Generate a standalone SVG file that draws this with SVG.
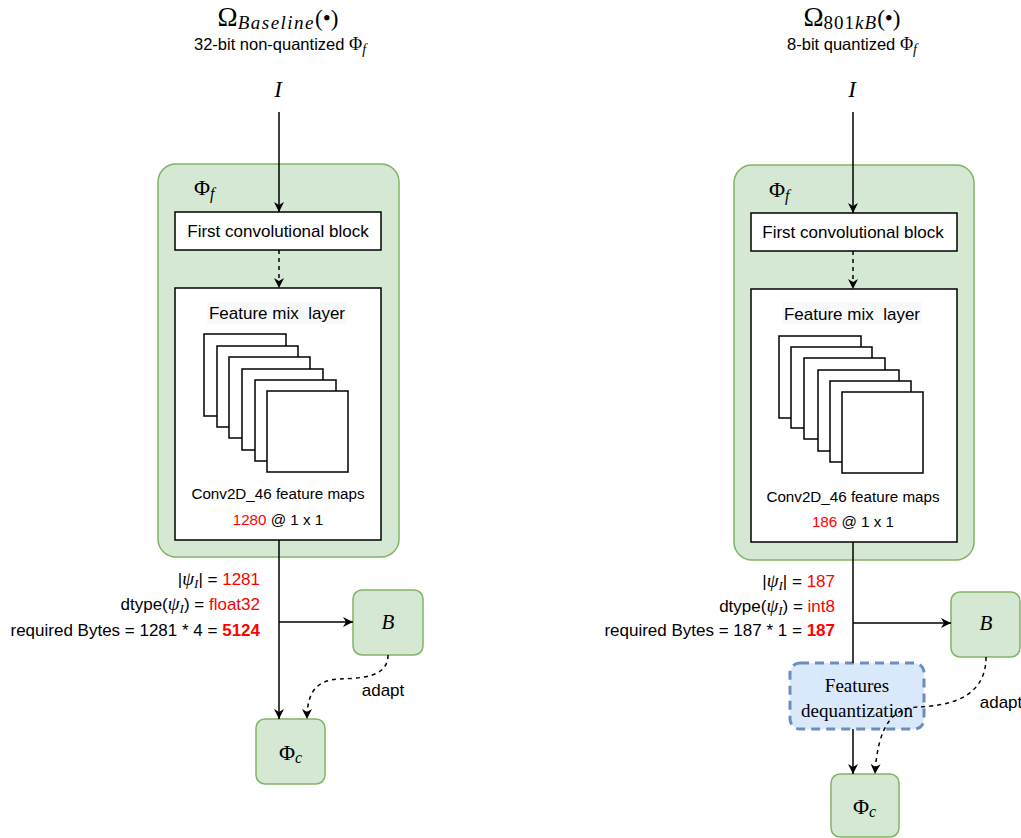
<svg xmlns="http://www.w3.org/2000/svg" width="1021" height="838" viewBox="0 0 1021 838">
  <defs>
    <marker id="arrow" viewBox="0 0 10 10" refX="10" refY="5" markerWidth="10" markerHeight="10" markerUnits="userSpaceOnUse" orient="auto">
      <path d="M0,0 L10,5 L0,10 L3,5 z" fill="#000"/>
    </marker>
    <style>
      .container { fill: #d5e8d4; stroke: #82b366; stroke-width: 1.5; }
      .green { fill: #d5e8d4; stroke: #82b366; stroke-width: 1.5; }
      .block { fill: #fff; stroke: #000; stroke-width: 1.5; }
      .map { fill: #fff; stroke: #000; stroke-width: 1.5; }
      .dequant { fill: #dae8fc; stroke: #6c8ebf; stroke-width: 3; stroke-dasharray: 9 6; }
      .edge { fill: none; stroke: #000; stroke-width: 1.5; }
      .dash { stroke-dasharray: 4 4; }
      .sans { font-family: "Liberation Sans", Arial, sans-serif; font-size: 17px; fill: #000; }
      .small { font-size: 15.2px; }
      .sub { font-size: 16.5px; }
      .serif { font-family: "Liberation Serif", "DejaVu Serif", serif; fill: #000; }
      .it { font-style: italic; }
      .red { fill: #ff0000; }
      .bold { font-weight: bold; }
    </style>
  </defs>

  <!-- ===== Baseline model (left) ===== -->
  <g id="title-baseline">
    <text class="serif" x="278" y="26" text-anchor="middle" font-size="27">Ω<tspan class="it" font-size="19" dy="3" letter-spacing="1.5">Baseline</tspan><tspan font-size="23" dy="-3">(•)</tspan></text>
    <text class="sans sub" x="280" y="50" text-anchor="middle">32-bit non-quantized <tspan class="serif" font-size="18">Φ</tspan><tspan class="serif it" font-size="14" dy="4">f</tspan></text>
  </g>
  <g id="input-baseline">
    <text class="serif it" x="278" y="97" text-anchor="middle" font-size="23">I</text>
  </g>
  <g id="phi-f-baseline">
    <rect class="container" x="158" y="164" width="241" height="393" rx="18"/>
    <text class="serif" x="194" y="195" font-size="22">Φ<tspan class="it" font-size="16" dy="4">f</tspan></text>
  </g>
  <g id="conv-block-baseline">
    <rect class="block" x="175" y="212" width="206" height="38"/>
    <text class="sans" x="278" y="237" text-anchor="middle">First convolutional block</text>
  </g>
  <g id="feature-mix-baseline">
    <rect class="block" x="175" y="288" width="206" height="252"/>
    <rect x="207" y="302" width="140" height="22" fill="#f8f9fa"/>
    <text class="sans" x="277" y="319" text-anchor="middle" xml:space="preserve">Feature mix  layer</text>
    <rect class="map" x="204" y="334" width="82" height="82"/>
    <rect class="map" x="217" y="346" width="81" height="81"/>
    <rect class="map" x="229" y="357" width="81" height="81"/>
    <rect class="map" x="242" y="369" width="81" height="81"/>
    <rect class="map" x="255" y="380" width="81" height="81"/>
    <rect class="map" x="267" y="391" width="81" height="81"/>
    <text class="sans small" x="278" y="499" text-anchor="middle">Conv2D_46 feature maps</text>
    <text class="sans small" x="278" y="525" text-anchor="middle"><tspan class="red">1280</tspan> @ 1 x 1</text>
  </g>
  <g id="stats-baseline">
    <text class="sans" x="260" y="585" text-anchor="end">|<tspan class="serif it" font-size="19">ψ</tspan><tspan class="serif it" font-size="13" dy="3">I</tspan><tspan dy="-3">| = </tspan><tspan class="red">1281</tspan></text>
    <text class="sans" x="260" y="610" text-anchor="end">dtype(<tspan class="serif it" font-size="19">ψ</tspan><tspan class="serif it" font-size="13" dy="3">I</tspan><tspan dy="-3">) = </tspan><tspan class="red">float32</tspan></text>
    <text class="sans" x="260" y="636" text-anchor="end">required Bytes = 1281 * 4 = <tspan class="red bold">5124</tspan></text>
  </g>
  <g id="b-baseline">
    <rect class="green" x="353" y="590" width="70" height="65" rx="9"/>
    <text class="serif it" x="388" y="629" text-anchor="middle" font-size="21">B</text>
  </g>
  <g id="phi-c-baseline">
    <rect class="green" x="256" y="719" width="69" height="65" rx="9"/>
    <text class="serif" x="279" y="760" font-size="22">Φ<tspan class="it" font-size="16" dy="3">c</tspan></text>
  </g>
  <text class="sans" x="383" y="696" text-anchor="middle">adapt</text>

  <!-- ===== 801kB model (right) ===== -->
  <g id="title-801kb">
    <text class="serif" x="852" y="26" text-anchor="middle" font-size="27">Ω<tspan font-size="19" dy="3" letter-spacing="1">801</tspan><tspan class="it" font-size="19" letter-spacing="1">kB</tspan><tspan font-size="23" dy="-3">(•)</tspan></text>
    <text class="sans sub" x="852" y="50" text-anchor="middle">8-bit quantized <tspan class="serif" font-size="18">Φ</tspan><tspan class="serif it" font-size="14" dy="4">f</tspan></text>
  </g>
  <g id="input-801kb">
    <text class="serif it" x="852" y="97" text-anchor="middle" font-size="23">I</text>
  </g>
  <g id="phi-f-801kb">
    <rect class="container" x="734" y="165" width="240" height="395" rx="18"/>
    <text class="serif" x="769" y="197" font-size="22">Φ<tspan class="it" font-size="16" dy="4">f</tspan></text>
  </g>
  <g id="conv-block-801kb">
    <rect class="block" x="751" y="213" width="206" height="38"/>
    <text class="sans" x="853" y="238" text-anchor="middle">First convolutional block</text>
  </g>
  <g id="feature-mix-801kb">
    <rect class="block" x="751" y="289" width="206" height="253"/>
    <rect x="782" y="302" width="140" height="22" fill="#f8f9fa"/>
    <text class="sans" x="852" y="320" text-anchor="middle" xml:space="preserve">Feature mix  layer</text>
    <rect class="map" x="779" y="336" width="82" height="82"/>
    <rect class="map" x="791" y="347" width="81" height="81"/>
    <rect class="map" x="804" y="358" width="81" height="81"/>
    <rect class="map" x="818" y="370" width="81" height="81"/>
    <rect class="map" x="830" y="381" width="81" height="81"/>
    <rect class="map" x="842" y="392" width="81" height="81"/>
    <text class="sans small" x="853" y="502" text-anchor="middle">Conv2D_46 feature maps</text>
    <text class="sans small" x="853" y="527" text-anchor="middle"><tspan class="red">186</tspan> @ 1 x 1</text>
  </g>
  <g id="stats-801kb">
    <text class="sans" x="835" y="587" text-anchor="end">|<tspan class="serif it" font-size="19">ψ</tspan><tspan class="serif it" font-size="13" dy="3">I</tspan><tspan dy="-3">| = </tspan><tspan class="red">187</tspan></text>
    <text class="sans" x="835" y="612" text-anchor="end">dtype(<tspan class="serif it" font-size="19">ψ</tspan><tspan class="serif it" font-size="13" dy="3">I</tspan><tspan dy="-3">) = </tspan><tspan class="red">int8</tspan></text>
    <text class="sans" x="835" y="636" text-anchor="end">required Bytes = 187 * 1 = <tspan class="red bold">187</tspan></text>
  </g>
  <g id="b-801kb">
    <rect class="green" x="951" y="592" width="69" height="65" rx="9"/>
    <text class="serif it" x="986" y="630" text-anchor="middle" font-size="21">B</text>
  </g>
  <g id="dequant-801kb">
    <rect class="dequant" x="790" y="663" width="134" height="66" rx="10"/>
    <text class="serif" x="857" y="692" text-anchor="middle" font-size="19">Features</text>
    <text class="serif" x="857" y="717" text-anchor="middle" font-size="19">dequantization</text>
  </g>
  <g id="phi-c-801kb">
    <rect class="green" x="831" y="774" width="68" height="63" rx="9"/>
    <text class="serif" x="853" y="814" font-size="22">Φ<tspan class="it" font-size="16" dy="3">c</tspan></text>
  </g>
  <text class="sans" x="1001" y="708" text-anchor="middle">adapt</text>

  <!-- ===== Connectors ===== -->
  <g id="connectors">
    <!-- baseline -->
    <path class="edge" d="M279,112 L279,212" marker-end="url(#arrow)"/>
    <path class="edge dash" d="M279,250 L279,288" marker-end="url(#arrow)"/>
    <path class="edge" d="M279,540 L279,719" marker-end="url(#arrow)"/>
    <path class="edge" d="M279,622 L353,622" marker-end="url(#arrow)"/>
    <path class="edge dash" d="M388,655 C388,678 360,678 340,679 C318,680 307,690 307,719" marker-end="url(#arrow)"/>
    <!-- 801kB -->
    <path class="edge" d="M853,112 L853,213" marker-end="url(#arrow)"/>
    <path class="edge dash" d="M853,251 L853,289" marker-end="url(#arrow)"/>
    <path class="edge" d="M853,542 L853,663"/>
    <path class="edge" d="M853,623 L951,623" marker-end="url(#arrow)"/>
    <path class="edge" d="M853,729 L853,774" marker-end="url(#arrow)"/>
    <path class="edge dash" d="M986,657 C986,700 945,706 918,707 C895,708 878,722 875,774" marker-end="url(#arrow)"/>
  </g>
</svg>
